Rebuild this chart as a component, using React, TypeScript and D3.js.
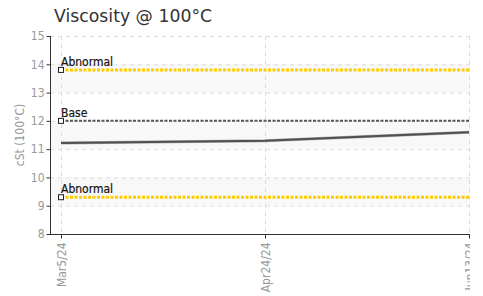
import React, { useRef, useEffect } from "react";
import * as d3 from "d3";

const title = "Viscosity @ 100°C";
const yLabel = "cSt (100°C)";
const dates = ["2024-03-05", "2024-04-24", "2024-06-13"];
const dateLabels = ["Mar5/24", "Apr24/24", "Jun13/24"];
const viscosity = [11.22, 11.3, 11.6];
const yTicks = [8, 9, 10, 11, 12, 13, 14, 15];
const bands = [[13, 14], [11, 12], [9, 10]];
const limitNames = ["Abnormal", "Base", "Abnormal"];
const limitValues = [13.8, 12, 9.3];
const limitColors = ["#ffcc00", "#555555", "#ffcc00"];
const limitWidths = [3, 2, 3];

const W = 483;
const H = 296;
const cond = "'DejaVu Sans Condensed', 'Liberation Sans Narrow', sans-serif";

export default function App() {
  const svgRef = useRef<SVGSVGElement>(null);

  useEffect(() => {
    const svg = d3.select(svgRef.current);
    svg.selectAll("*").remove();

    const left = 50, top = 36, bottom = 234, right = 470;
    const parse = d3.timeParse("%Y-%m-%d");
    const xd = dates.map(d => parse(d) as Date);
    const x = d3.scaleTime().domain([xd[0], xd[xd.length - 1]]).range([61, 469]);
    const y = d3.scaleLinear().domain([8, 15]).range([bottom, top]);

    svg.append("defs").append("clipPath").attr("id", "clip")
      .append("rect").attr("x", 0).attr("y", 0).attr("width", right).attr("height", H);

    const g = svg.append("g").attr("clip-path", "url(#clip)");

    // bands
    g.selectAll("rect.band").data(bands).enter().append("rect")
      .attr("x", left).attr("width", right - left)
      .attr("y", d => y(d[1])).attr("height", d => y(d[0]) - y(d[1]))
      .attr("fill", "#f8f8f8");

    // grid
    g.selectAll("line.hg").data(yTicks.slice(1)).enter().append("line")
      .attr("x1", left).attr("x2", right)
      .attr("y1", d => y(d) + 0.5).attr("y2", d => y(d) + 0.5)
      .attr("stroke", "#dcdcdc").attr("stroke-dasharray", "4,4");
    g.selectAll("line.vg").data(xd).enter().append("line")
      .attr("x1", d => Math.round(x(d)) + 0.5).attr("x2", d => Math.round(x(d)) + 0.5)
      .attr("y1", top).attr("y2", bottom)
      .attr("stroke", "#dcdcdc").attr("stroke-dasharray", "4,4");

    // limits
    limitValues.forEach((v, i) => {
      g.append("line")
        .attr("x1", x(xd[0])).attr("x2", right)
        .attr("y1", y(v)).attr("y2", y(v))
        .attr("stroke", limitColors[i]).attr("stroke-width", limitWidths[i])
        .attr("stroke-dasharray", "3,1.5");
    });

    // series
    const line = d3.line<number>().x((d, i) => x(xd[i])).y(d => y(d));
    g.append("path").datum(viscosity).attr("d", line)
      .attr("fill", "none").attr("stroke", "#aaa").attr("stroke-width", 3);
    g.append("path").datum(viscosity).attr("d", line)
      .attr("fill", "none").attr("stroke", "#505050").attr("stroke-width", 2);

    limitValues.forEach((v, i) => {
      g.append("rect")
        .attr("x", x(xd[0]) - 2.5).attr("y", y(v) - 2.5)
        .attr("width", 5).attr("height", 5)
        .attr("fill", "#fff").attr("stroke", "#222").attr("stroke-width", 1);
      g.append("text")
        .attr("x", x(xd[0])).attr("y", y(v) - 4)
        .attr("font-family", cond).attr("font-size", 12)
        .attr("fill", "#111").attr("stroke", "#111").attr("stroke-width", 0.2)
        .text(limitNames[i]);
    });

    // axes
    const ya = g.append("g").attr("transform", `translate(${left + 0.5},0)`)
      .call(d3.axisLeft(y).tickValues(yTicks).tickSize(4).tickFormat(d3.format("d")));
    ya.select(".domain").attr("stroke", "#333").attr("d", `M0,${top}V${bottom}`);
    ya.selectAll(".tick line").attr("stroke", "#333");
    ya.selectAll("text").attr("fill", "#999").attr("font-family", cond).attr("font-size", 12).attr("x", -6);

    const xa = g.append("g").attr("transform", `translate(0,${bottom + 0.5})`)
      .call(d3.axisBottom(x).tickValues(xd).tickSize(4).tickFormat((d, i) => dateLabels[i]));
    xa.select(".domain").attr("stroke", "#333").attr("d", `M${left},0H${right}`);
    xa.selectAll(".tick line").attr("stroke", "#333");
    xa.selectAll("text")
      .attr("fill", "#999").attr("font-family", cond).attr("font-size", 12)
      .attr("transform", "rotate(-90)").attr("text-anchor", "end")
      .attr("x", -8).attr("y", 0).attr("dy", "0.35em");

    svg.append("text")
      .attr("transform", `translate(24,${(top + bottom) / 2}) rotate(-90)`)
      .attr("text-anchor", "middle").attr("font-family", cond).attr("font-size", 12)
      .attr("fill", "#999").text(yLabel);

    svg.append("text")
      .attr("x", 54).attr("y", 22)
      .attr("font-family", "'DejaVu Sans', Verdana, sans-serif").attr("font-size", 17.3)
      .attr("fill", "#333").text(title);
  }, []);

  return (
    <svg ref={svgRef} width={W} height={H}
      style={{ position: "absolute", left: 0, top: 0, background: "#fff" }} />
  );
}
